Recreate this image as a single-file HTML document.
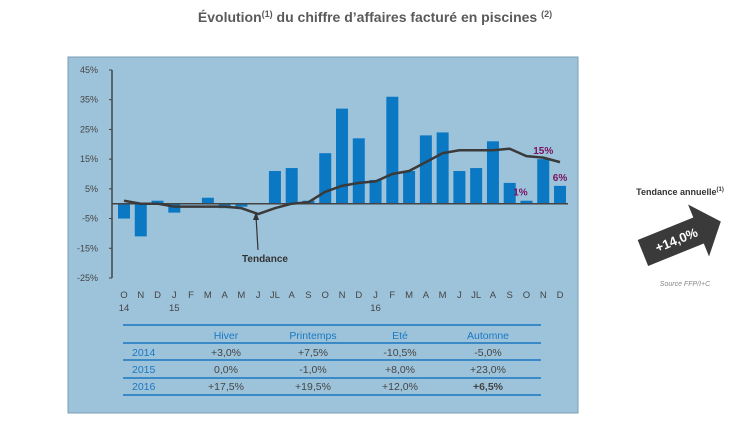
<!DOCTYPE html>
<html><head><meta charset="utf-8"><style>
body{margin:0;width:750px;height:422px;background:#fff;font-family:"Liberation Sans",sans-serif;overflow:hidden}
</style></head><body>
<svg width="750" height="422" xmlns="http://www.w3.org/2000/svg">
<text x="375" y="22" text-anchor="middle" font-size="14" font-weight="bold" fill="#5a5a5a">Évolution<tspan font-size="9" dy="-5">(1)</tspan><tspan dy="5"> du chiffre d’affaires facturé en piscines </tspan><tspan font-size="9" dy="-5">(2)</tspan></text>
<rect x="68" y="57" width="510" height="356" fill="#9dc3db" stroke="#7a9cb0"/>
<g id="axes"></g><g id="bars"></g><g id="trend"></g>
<text x="265" y="262" font-size="10" font-weight="bold" fill="#333" text-anchor="middle">Tendance</text>
<line x1="258" y1="250" x2="256" y2="216" stroke="#333" stroke-width="1.2"/>
<polygon points="256,212 253,220 259,220" fill="#333"/>
<g id="table"></g>
<text x="680" y="195" text-anchor="middle" font-size="9" font-weight="bold" fill="#333">Tendance annuelle<tspan font-size="6" dy="-4">(1)</tspan></text>
<g transform="rotate(-22 680 238)">
<polygon points="640,224 700,224 700,210 724,238 700,266 700,252 640,252" fill="#3a3a3a"/>
<text x="676" y="243" text-anchor="middle" font-size="13" font-weight="bold" fill="#fff">+14,0%</text>
</g>
<text x="685" y="286" text-anchor="middle" font-size="7" font-style="italic" fill="#888">Source FFP/I+C</text>
</svg>
<script>
const months=["O","N","D","J","F","M","A","M","J","JL","A","S","O","N","D","J","F","M","A","M","J","JL","A","S","O","N","D"];
const yearLabels=["14","","","15","","","","","","","","","","","","16","","","","","","","","","","",""];
const barValues=[-5,-11,1,-3,0,2,-1.5,-1,0,11,12,1,17,32,22,8,36,11,23,24,11,12,21,7,1,15,6];
const trendValues=[1,0,0,-1,-1,-1,-1,-1.5,-3.5,-1.5,0,0.5,4,6,7,7.5,10,11,14,17,18,18,18,18.5,16,15.5,14];
const yTicks=[45,35,25,15,5,-5,-15,-25];
const callouts=[[24,"1%",1],[25,"15%",15],[26,"6%",6]];
const seasons=["Hiver","Printemps","Eté","Automne"];
const tableYears=["2014","2015","2016"];
const tableRows=[["+3,0%","+7,5%","-10,5%","-5,0%"],["0,0%","-1,0%","+8,0%","+23,0%"],["+17,5%","+19,5%","+12,0%","+6,5%"]];
const NS="http://www.w3.org/2000/svg";
const y=v=>203.7-v*2.971;
const x=i=>124+i*16.77;
function mk(p,t,a){const e=document.createElementNS(NS,t);for(const k in a)e.setAttribute(k,a[k]);p.appendChild(e);return e;}
const ax=document.getElementById('axes'),bg=document.getElementById('bars'),tg=document.getElementById('trend'),tb=document.getElementById('table');
let e=mk(ax,'line',{x1:112,y1:y(45),x2:112,y2:y(-25),stroke:'#444','stroke-width':1.5});


yTicks.forEach(v=>{let t=mk(ax,'text',{x:98,y:y(v)+3,'font-size':9,fill:'#444','text-anchor':'end'});t.textContent=v+'%';


mk(ax,'line',{x1:109,x2:112,y1:y(v),y2:y(v),stroke:'#444'});});
barValues.forEach((v,i)=>{let r=mk(bg,'rect',{x:x(i)-6,y:Math.min(y(v),y(0)),width:12,height:Math.abs(y(v)-y(0)),fill:'#0a78c2'});


let t=mk(ax,'text',{x:x(i),y:298,'font-size':9.5,fill:'#444','text-anchor':'middle'});t.textContent=months[i];


if(yearLabels[i]){let u=mk(ax,'text',{x:x(i),y:311,'font-size':9.5,fill:'#444','text-anchor':'middle'});u.textContent=yearLabels[i];

}});
e=mk(bg,'line',{x1:112,x2:x(26)+8,y1:y(0),y2:y(0),stroke:'#444','stroke-width':1.5});


let p=mk(tg,'polyline',{points:trendValues.map((v,i)=>x(i)+','+y(v)).join(' '),fill:'none',stroke:'#3a3a3a','stroke-width':2.5});


callouts.forEach(c=>{let t=mk(tg,'text',{x:x(c[0])+(c[0]==24?-6:0),y:y(c[2])-5,'font-size':10,'font-weight':'bold',fill:'#7a1060','text-anchor':'middle'});t.textContent=c[1];

});
const cx=[127,226,313,400,488],ry=[335,352,369,386];
[325,343,360,378,395].forEach(yy=>mk(tb,'line',{x1:123,x2:541,y1:yy,y2:yy,stroke:'#1a78c2','stroke-width':1.5}));
seasons.forEach((s,j)=>{let t=mk(tb,'text',{x:cx[j+1],y:ry[0]+4,'font-size':10.5,fill:'#1a78c2','text-anchor':'middle'});t.textContent=s;

});
tableYears.forEach((yr,r)=>{let t=mk(tb,'text',{x:cx[0]+5,y:ry[r+1]+4,'font-size':10.5,fill:'#1a78c2'});t.textContent=yr;


tableRows[r].forEach((v,j)=>{let c=mk(tb,'text',{x:cx[j+1],y:ry[r+1]+4,'font-size':10.5,fill:'#444','text-anchor':'middle','font-weight':(r==2&&j==3)?'bold':'normal'});c.textContent=v;

});});
</script>
</body></html>
